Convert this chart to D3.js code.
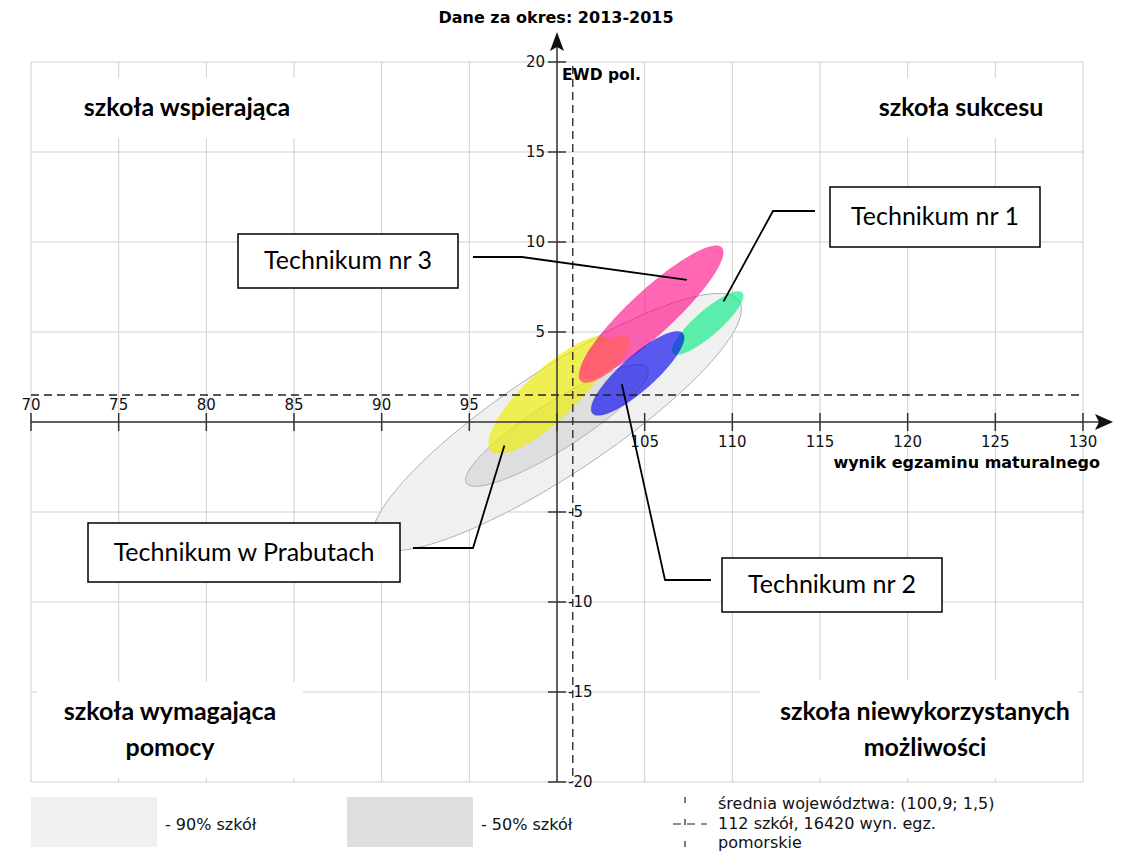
<!DOCTYPE html>
<meta charset="utf-8">
<style>
body { margin: 0; background: #fff; }
svg { font-family: "DejaVu Sans", sans-serif; }
.grid line { stroke: #cfcfcf; stroke-width: 1; }
.axis line, .axis path { stroke: #333; stroke-width: 1.5; fill: none; }
.mean line { stroke: #222; stroke-width: 1.3; stroke-dasharray: 8,5; }
.tick-label { font-size: 15px; fill: #111; }
.quad { font-family: Lato, "Open Sans", sans-serif; font-weight: bold; font-size: 25px; fill: #000; }
.callout rect { fill: #fff; stroke: #000; stroke-width: 1.5; }
.callout text { font-family: Lato, "Open Sans", sans-serif; font-size: 25px; fill: #000; }
.callout path { fill: none; stroke: #000; stroke-width: 1.8; }
.legend text { font-size: 16px; fill: #111; }
</style>
<svg width="1129" height="852"></svg>
<script src="https://d3js.org/d3.v7.min.js"></script>
<script>

// axis ticks
var xTicks = [70, 75, 80, 85, 90, 95, 100, 105, 110, 115, 120, 125, 130];
var yTicks = [-20, -15, -10, -5, 0, 5, 10, 15, 20];

// provincial mean (wynik, EWD)
var meanPoint = [100.9, 1.5];

// background bands: centre and two conjugate semi-axes (data units)
var bandNames = ["90% szkół", "50% szkół"];
var bandCenters = [[100.0, 0.0], [100.0, -0.2]];
var bandAxisU = [[10.39, 6.72], [5.16, 3.19]];
var bandAxisV = [[1.65, -2.42], [0.72, -1.10]];

// schools
var schoolNames = ["Technikum w Prabutach", "Technikum nr 3", "", "Technikum nr 1", "Technikum nr 2"];
var schoolCenters = [[99.6, 1.5], [105.4, 6.1], [102.7, 3.5], [108.6, 5.5], [104.6, 2.7]];
var schoolAxisU = [[3.35, 3.1], [3.99, 3.58], [1.37, 1.19], [1.97, 1.67], [2.57, 2.22]];
var schoolAxisV = [[1.0, -1.0], [0.84, -0.89], [0.5, -0.54], [0.46, -0.52], [0.64, -0.71]];
// points the callout lines lead to
var schoolAnchors = [[97.0, -1.3], [107.4, 7.9], null, [109.5, 6.7], [103.7, 2.1]];

var quadrantLabels = [
  ["szkoła wspierająca"],
  ["szkoła sukcesu"],
  ["szkoła wymagająca", "pomocy"],
  ["szkoła niewykorzystanych", "możliwości"]
];
var legendLines = ["średnia województwa: (100,9; 1,5)", "112 szkół, 16420 wyn. egz.", "pomorskie"];

var svg = d3.select("svg");

var x = d3.scaleLinear().domain([70, 130]).range([31, 1083]);
var y = d3.scaleLinear().domain([-20, 20]).range([782, 62]);

var bandFill = ["#f0f0f0", "#dedede"];
var schoolFill = ["#eeee00", "#ff0080", "#ff6070", "#00ee80", "#0000ee"];
var schoolOpacity = [0.65, 0.6, 0.9, 0.62, 0.63];

// grid
var grid = svg.append("g").attr("class", "grid");
grid.selectAll(".gx").data(xTicks).enter().append("line")
    .attr("x1", function(d) { return x(d); }).attr("x2", function(d) { return x(d); })
    .attr("y1", y(20)).attr("y2", y(-20));
grid.selectAll(".gy").data(yTicks).enter().append("line")
    .attr("x1", x(70)).attr("x2", x(130))
    .attr("y1", function(d) { return y(d); }).attr("y2", function(d) { return y(d); });

// quadrant label boxes (cover the grid)
var quadBoxes = [
  {x: 40, y: 78, w: 262, h: 60, cx: 187, ty: [116]},
  {x: 850, y: 78, w: 225, h: 60, cx: 961, ty: [116]},
  {x: 37, y: 682, w: 266, h: 96, cx: 170, ty: [720, 756]},
  {x: 760, y: 680, w: 318, h: 98, cx: 925, ty: [720, 756]}
];
quadBoxes.forEach(function(b, i) {
  svg.append("rect").attr("x", b.x).attr("y", b.y).attr("width", b.w).attr("height", b.h).attr("fill", "#fff");
  quadrantLabels[i].forEach(function(t, j) {
    svg.append("text").attr("class", "quad").attr("x", b.cx).attr("y", b.ty[j])
        .attr("text-anchor", "middle").text(t);
  });
});

function ellipsePath(c, u, v) {
  var pts = d3.range(0, 2 * Math.PI, Math.PI / 90).map(function(t) {
    return [x(c[0] + u[0] * Math.cos(t) + v[0] * Math.sin(t)),
            y(c[1] + u[1] * Math.cos(t) + v[1] * Math.sin(t))];
  });
  return d3.line().curve(d3.curveLinearClosed)(pts);
}

// bands
svg.append("g").selectAll("path").data(bandNames).enter().append("path")
    .attr("d", function(d, i) { return ellipsePath(bandCenters[i], bandAxisU[i], bandAxisV[i]); })
    .attr("fill", function(d, i) { return bandFill[i]; })
    .attr("stroke", "#b0b0b0").attr("stroke-width", 1);

// school ellipses
svg.append("g").selectAll("path").data(schoolNames).enter().append("path")
    .attr("d", function(d, i) { return ellipsePath(schoolCenters[i], schoolAxisU[i], schoolAxisV[i]); })
    .attr("fill", function(d, i) { return schoolFill[i]; })
    .attr("fill-opacity", function(d, i) { return schoolOpacity[i]; })
    .attr("stroke", function(d, i) { return schoolFill[i]; })
    .attr("stroke-opacity", 0.25);

// mean lines
var mean = svg.append("g").attr("class", "mean");
mean.append("line").attr("x1", x(70)).attr("x2", x(130)).attr("y1", y(meanPoint[1])).attr("y2", y(meanPoint[1]));
mean.append("line").attr("x1", x(meanPoint[0])).attr("x2", x(meanPoint[0])).attr("y1", y(20) + 4).attr("y2", y(-20));

// axes
var axis = svg.append("g").attr("class", "axis");
axis.append("line").attr("x1", x(70)).attr("x2", 1102).attr("y1", y(0)).attr("y2", y(0));
axis.append("line").attr("x1", x(100)).attr("x2", x(100)).attr("y1", y(-20)).attr("y2", 42);
svg.append("path").attr("d", "M1113," + y(0) + "L1095," + (y(0) - 8) + "L1099," + y(0) + "L1095," + (y(0) + 8) + "Z").attr("fill", "#111");
svg.append("path").attr("d", "M" + x(100) + ",32L" + (x(100) - 7) + ",51L" + x(100) + ",47L" + (x(100) + 7) + ",51Z").attr("fill", "#111");

axis.selectAll(".tx").data(xTicks).enter().append("line")
    .attr("x1", function(d) { return x(d); }).attr("x2", function(d) { return x(d); })
    .attr("y1", y(0) - 9).attr("y2", y(0) + 9);
axis.selectAll(".ty").data(yTicks.filter(function(d) { return d !== 0; })).enter().append("line")
    .attr("x1", x(100) - 9).attr("x2", x(100) + 9)
    .attr("y1", function(d) { return y(d); }).attr("y2", function(d) { return y(d); });

svg.selectAll(".xl").data(xTicks.filter(function(d) { return d !== 100; })).enter().append("text")
    .attr("class", "tick-label")
    .attr("x", function(d) { return x(d); })
    .attr("y", function(d) { return d < 100 ? y(0) - 12 : y(0) + 25; })
    .attr("text-anchor", "middle").text(function(d) { return d; });
svg.selectAll(".yl").data(yTicks.filter(function(d) { return d !== 0; })).enter().append("text")
    .attr("class", "tick-label")
    .attr("x", function(d) { return d > 0 ? x(100) - 12 : x(100) + 11; })
    .attr("y", function(d) { return y(d) + 5; })
    .attr("text-anchor", function(d) { return d > 0 ? "end" : "start"; })
    .text(function(d) { return d; });

svg.append("text").attr("x", 556).attr("y", 23).attr("text-anchor", "middle")
    .attr("font-weight", "bold").attr("font-size", 16).text("Dane za okres: 2013-2015");
svg.append("text").attr("x", 562).attr("y", 80)
    .attr("font-weight", "bold").attr("font-size", 15.5).text("EWD pol.");
svg.append("text").attr("x", 1100).attr("y", 468).attr("text-anchor", "end")
    .attr("font-weight", "bold").attr("font-size", 16).text("wynik egzaminu maturalnego");

// callouts
var calloutBoxes = [
  {x: 88, y: 523, w: 312, h: 59, elbow: [[413, 548], [473, 548]]},
  {x: 238, y: 234, w: 220, h: 54, elbow: [[473, 257], [522, 257]]},
  null,
  {x: 830, y: 187, w: 210, h: 60, elbow: [[815, 211], [773, 211]]},
  {x: 722, y: 558, w: 220, h: 54, elbow: [[711, 580], [665, 580]]}
];
var callouts = svg.append("g").attr("class", "callout");
calloutBoxes.forEach(function(b, i) {
  if (!b) return;
  var a = schoolAnchors[i];
  callouts.append("path").attr("d", d3.line()(b.elbow.concat([[x(a[0]), y(a[1])]])));
  callouts.append("rect").attr("x", b.x).attr("y", b.y).attr("width", b.w).attr("height", b.h);
  callouts.append("text").attr("x", b.x + b.w / 2).attr("y", b.y + b.h / 2 + 8)
      .attr("text-anchor", "middle").text(schoolNames[i]);
});

// legend
var legend = svg.append("g").attr("class", "legend");
var legX = [31, 347];
bandNames.forEach(function(n, i) {
  legend.append("rect").attr("x", legX[i]).attr("y", 797).attr("width", 126).attr("height", 50).attr("fill", bandFill[i]);
  legend.append("text").attr("x", legX[i] + 134).attr("y", 830).text("- " + n);
});
var mx = 685, my = 824;
legend.append("line").attr("x1", mx - 12).attr("x2", mx + 22).attr("y1", my).attr("y2", my)
    .attr("stroke", "#222").attr("stroke-width", 1.2).attr("stroke-dasharray", "8,6");
legend.append("line").attr("x1", mx).attr("x2", mx).attr("y1", my - 27).attr("y2", my + 27)
    .attr("stroke", "#222").attr("stroke-width", 1.2).attr("stroke-dasharray", "6,16");
legendLines.forEach(function(t, i) {
  legend.append("text").attr("x", 718).attr("y", 809 + i * 19.5).text(t);
});

</script>
